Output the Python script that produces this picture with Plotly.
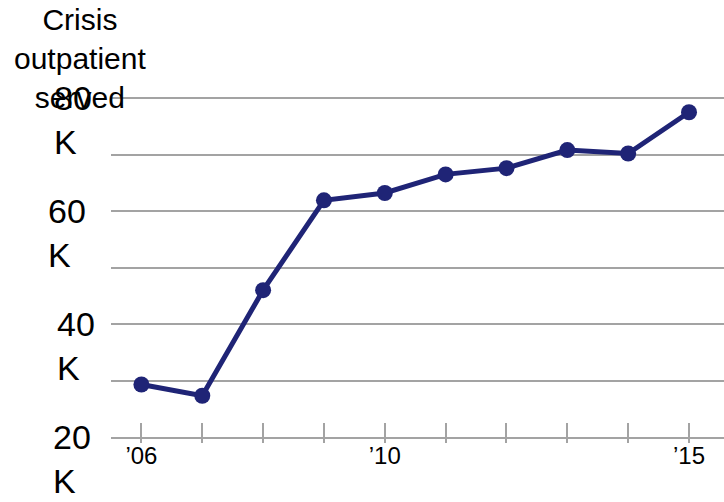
import plotly.graph_objects as go

# Crisis outpatients served per year
years = [2006, 2007, 2008, 2009, 2010, 2011, 2012, 2013, 2014, 2015]
served = [29300, 27300, 46000, 61900, 63200, 66500, 67600, 70800, 70200, 77500]

# Axis labelling
x_tick_text = ["’06", "", "", "", "’10", "", "", "", "", "’15"]
y_label_values = [20000, 40000, 60000, 80000]
y_label_text = ["20<br>K", "40<br>K", "60<br>K", "80<br>K"]
title_text = "Crisis<br>outpatient<br>served"

# Layout styling
W, H = 724, 502
M_L, M_R, M_T, M_B = 111, 0, 97, 65
PLOT_W = W - M_L - M_R
PLOT_H = H - M_T - M_B
NAVY = "#1f2476"
GRID = "#a3a3a3"
FONT = "Liberation Sans, Arial, sans-serif"
label_left_px = [51, 55, 46, 52]  # left edge of each y label block

fig = go.Figure()
fig.add_trace(go.Scatter(
    x=years, y=served, mode="lines+markers",
    line=dict(color=NAVY, width=5),
    marker=dict(color=NAVY, size=16),
    cliponaxis=False, showlegend=False,
))
# empty trace so the overlay axis (short ticks below the baseline) is drawn
fig.add_trace(go.Scatter(x=[], y=[], xaxis="x2", showlegend=False))

x_range = [2005.5, 2015.575]
y_range = [20000, 80200]  # a little headroom so the 80K gridline is drawn
fig.update_layout(
    width=W, height=H,
    margin=dict(l=M_L, r=M_R, t=M_T, b=M_B),
    paper_bgcolor="white", plot_bgcolor="white",
    font=dict(family=FONT, color="black"),
    xaxis=dict(
        range=x_range, tickvals=years, ticktext=x_tick_text,
        ticks="inside", ticklen=14, tickwidth=1.5, tickcolor=GRID,
        showline=True, linecolor=GRID, linewidth=1.5,
        showgrid=False, zeroline=False, ticklabelstandoff=-4,
        tickfont=dict(size=24, family=FONT, color="black"),
    ),
    xaxis2=dict(
        range=x_range, overlaying="x", anchor="y", side="bottom",
        tickvals=years, showticklabels=False,
        ticks="outside", ticklen=5, tickwidth=1.5, tickcolor=GRID,
        showline=False, showgrid=False, zeroline=False,
    ),
    yaxis=dict(
        range=y_range, dtick=10000, tick0=20000,
        showticklabels=False, ticks="",
        showgrid=True, gridcolor=GRID, gridwidth=1.5,
        zeroline=False, showline=False,
    ),
)

annotations = []
for v, txt, left in zip(y_label_values, y_label_text, label_left_px):
    annotations.append(dict(
        text=txt, xref="paper", x=(left - M_L) / PLOT_W, xanchor="left",
        yref="y", y=v, yanchor="middle", yshift=-22, align="left",
        showarrow=False, font=dict(size=34, family=FONT, color="black"),
    ))
annotations.append(dict(
    text=title_text, xref="paper", x=(80 - M_L) / PLOT_W, xanchor="center",
    yref="paper", y=(H - M_B - 59) / PLOT_H, yanchor="middle", align="center",
    showarrow=False, font=dict(size=30, family=FONT, color="black"),
))
fig.update_layout(annotations=annotations)

fig.write_html("out.html")
